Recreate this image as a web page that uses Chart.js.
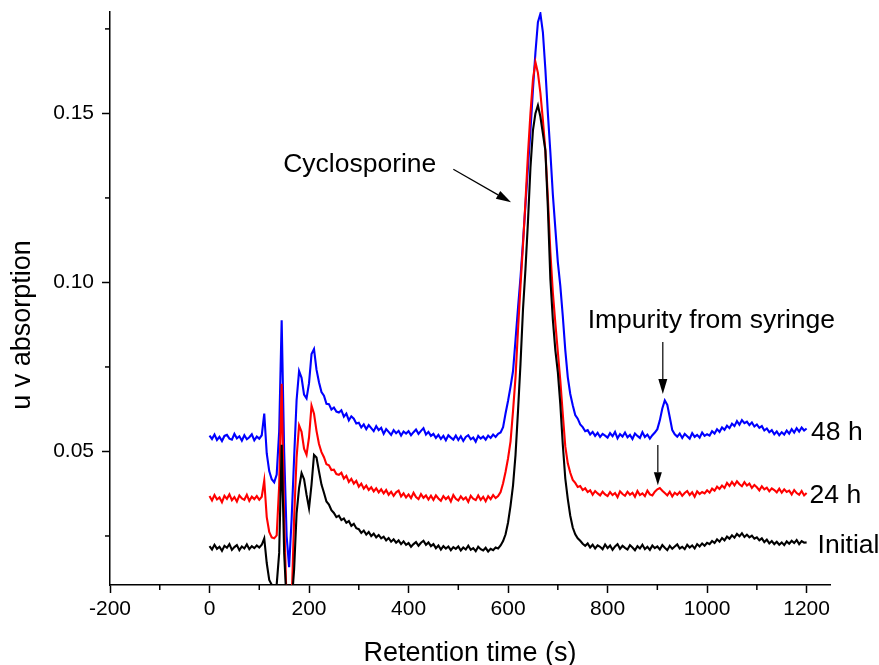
<!DOCTYPE html>
<html><head><meta charset="utf-8">
<script src="https://cdn.jsdelivr.net/npm/chart.js@4.4.1/dist/chart.umd.min.js"></script>
<style>html,body{margin:0;padding:0;background:#fff}#wrap{width:879px;height:665px;position:relative}</style>
</head><body><div id="wrap"><canvas id="c"></canvas></div>
<script>
// Retention time (s), one sample every 5 s
const times = [
0,5,10,15,20,25,30,35,40,45, 50,55,60,65,70,75,80,85,90,95,
100,105,110,115,120,125,130,135,140,145, 150,155,160,165,170,175,180,185,190,195,
200,205,210,215,220,225,230,235,240,245, 250,255,260,265,270,275,280,285,290,295,
300,305,310,315,320,325,330,335,340,345, 350,355,360,365,370,375,380,385,390,395,
400,405,410,415,420,425,430,435,440,445, 450,455,460,465,470,475,480,485,490,495,
500,505,510,515,520,525,530,535,540,545, 550,555,560,565,570,575,580,585,590,595,
600,605,610,615,620,625,630,635,640,645, 650,655,660,665,670,675,680,685,690,695,
700,705,710,715,720,725,730,735,740,745, 750,755,760,765,770,775,780,785,790,795,
800,805,810,815,820,825,830,835,840,845, 850,855,860,865,870,875,880,885,890,895,
900,905,910,915,920,925,930,935,940,945, 950,955,960,965,970,975,980,985,990,995,
1000,1005,1010,1015,1020,1025,1030,1035,1040,1045, 1050,1055,1060,1065,1070,1075,1080,1085,1090,1095,
1100,1105,1110,1115,1120,1125,1130,1135,1140,1145, 1150,1155,1160,1165,1170,1175,1180,1185,1190,1195,
1200];

const initialSeries = [
0.0220,0.0210,0.0224,0.0212,0.0218,0.0206,0.0221,0.0215,0.0226,0.0209,
0.0217,0.0223,0.0208,0.0219,0.0213,0.0225,0.0211,0.0220,0.0214,0.0222,
0.0216,0.0224,0.0243,0.0170,0.0120,0.0106,0.0100,0.0106,0.0200,0.0520,
0.0200,0.0050,0.0050,0.0050,0.0150,0.0317,0.0392,0.0436,0.0418,0.0372,
0.0332,0.0402,0.0490,0.0482,0.0441,0.0402,0.0378,0.0352,0.0343,0.0326,
0.0318,0.0306,0.0310,0.0297,0.0302,0.0289,0.0294,0.0280,0.0286,0.0273,
0.0270,0.0259,0.0266,0.0254,0.0262,0.0250,0.0257,0.0246,0.0253,0.0243,
0.0248,0.0237,0.0244,0.0233,0.0240,0.0230,0.0237,0.0226,0.0234,0.0224,
0.0229,0.0218,0.0226,0.0232,0.0221,0.0230,0.0236,0.0224,0.0231,0.0220,
0.0226,0.0214,0.0222,0.0210,0.0220,0.0213,0.0219,0.0208,0.0217,0.0212,
0.0219,0.0207,0.0216,0.0210,0.0221,0.0209,0.0214,0.0205,0.0218,0.0211,
0.0207,0.0215,0.0204,0.0212,0.0208,0.0216,0.0213,0.0222,0.0235,0.0255,
0.0290,0.0340,0.0400,0.0490,0.0620,0.0760,0.0920,0.1040,0.1180,0.1340,
0.1450,0.1500,0.1524,0.1490,0.1440,0.1390,0.1220,0.1010,0.0890,0.0800,
0.0735,0.0640,0.0520,0.0420,0.0360,0.0310,0.0275,0.0255,0.0243,0.0236,
0.0227,0.0221,0.0228,0.0216,0.0224,0.0213,0.0222,0.0218,0.0211,0.0225,
0.0214,0.0222,0.0209,0.0219,0.0226,0.0212,0.0221,0.0215,0.0210,0.0223,
0.0216,0.0208,0.0220,0.0213,0.0224,0.0211,0.0218,0.0209,0.0222,0.0214,
0.0219,0.0210,0.0223,0.0215,0.0208,0.0221,0.0212,0.0219,0.0225,0.0213,
0.0218,0.0211,0.0224,0.0216,0.0222,0.0213,0.0226,0.0219,0.0228,0.0221,
0.0230,0.0226,0.0235,0.0229,0.0240,0.0233,0.0244,0.0237,0.0248,0.0242,
0.0252,0.0245,0.0256,0.0249,0.0258,0.0247,0.0254,0.0246,0.0251,0.0242,
0.0246,0.0237,0.0243,0.0232,0.0239,0.0228,0.0235,0.0226,0.0233,0.0224,
0.0231,0.0223,0.0234,0.0227,0.0236,0.0229,0.0238,0.0226,0.0235,0.0230,
0.0231];

const h24Series = [
0.0368,0.0355,0.0371,0.0358,0.0364,0.0350,0.0369,0.0360,0.0373,0.0356,
0.0365,0.0352,0.0370,0.0361,0.0357,0.0372,0.0354,0.0366,0.0359,0.0368,
0.0357,0.0366,0.0414,0.0306,0.0262,0.0246,0.0243,0.0252,0.0400,0.0700,
0.0300,0.0050,0.0050,0.0050,0.0300,0.0482,0.0577,0.0558,0.0508,0.0490,
0.0542,0.0636,0.0612,0.0561,0.0522,0.0498,0.0483,0.0462,0.0459,0.0445,
0.0446,0.0433,0.0431,0.0437,0.0420,0.0428,0.0410,0.0419,0.0405,0.0413,
0.0396,0.0405,0.0390,0.0399,0.0386,0.0394,0.0382,0.0391,0.0379,0.0388,
0.0376,0.0386,0.0372,0.0381,0.0369,0.0379,0.0384,0.0367,0.0376,0.0364,
0.0373,0.0362,0.0378,0.0365,0.0359,0.0374,0.0363,0.0370,0.0358,0.0369,
0.0357,0.0370,0.0361,0.0354,0.0368,0.0359,0.0366,0.0352,0.0371,0.0360,
0.0355,0.0367,0.0358,0.0364,0.0351,0.0369,0.0360,0.0356,0.0370,0.0357,
0.0366,0.0353,0.0368,0.0359,0.0371,0.0362,0.0368,0.0380,0.0406,0.0440,
0.0480,0.0530,0.0620,0.0720,0.0860,0.0990,0.1110,0.1240,0.1380,0.1500,
0.1600,0.1652,0.1620,0.1560,0.1480,0.1390,0.1250,0.1090,0.0970,0.0880,
0.0795,0.0710,0.0610,0.0515,0.0465,0.0437,0.0416,0.0407,0.0395,0.0398,
0.0386,0.0391,0.0380,0.0385,0.0372,0.0383,0.0376,0.0370,0.0381,0.0373,
0.0368,0.0380,0.0371,0.0377,0.0365,0.0382,0.0374,0.0369,0.0381,0.0372,
0.0378,0.0366,0.0383,0.0371,0.0376,0.0368,0.0384,0.0373,0.0370,0.0381,
0.0388,0.0392,0.0384,0.0377,0.0370,0.0381,0.0367,0.0378,0.0372,0.0380,
0.0369,0.0377,0.0383,0.0371,0.0379,0.0366,0.0382,0.0374,0.0380,0.0376,
0.0385,0.0378,0.0390,0.0384,0.0396,0.0389,0.0399,0.0392,0.0407,0.0398,
0.0410,0.0400,0.0412,0.0403,0.0397,0.0409,0.0399,0.0405,0.0392,0.0401,
0.0394,0.0385,0.0397,0.0388,0.0393,0.0382,0.0391,0.0386,0.0379,0.0390,
0.0378,0.0388,0.0380,0.0384,0.0373,0.0386,0.0377,0.0372,0.0383,0.0370,
0.0377];

const h48Series = [
0.0547,0.0537,0.0550,0.0534,0.0543,0.0531,0.0546,0.0549,0.0538,0.0535,
0.0552,0.0539,0.0545,0.0532,0.0548,0.0536,0.0542,0.0551,0.0533,0.0544,
0.0538,0.0548,0.0612,0.0494,0.0442,0.0418,0.0409,0.0432,0.0560,0.0888,
0.0500,0.0250,0.0158,0.0300,0.0480,0.0652,0.0738,0.0718,0.0668,0.0657,
0.0702,0.0788,0.0803,0.0742,0.0705,0.0676,0.0665,0.0641,0.0640,0.0624,
0.0630,0.0618,0.0615,0.0622,0.0603,0.0612,0.0592,0.0604,0.0597,0.0583,
0.0585,0.0571,0.0580,0.0566,0.0578,0.0569,0.0560,0.0575,0.0563,0.0570,
0.0552,0.0566,0.0558,0.0549,0.0563,0.0554,0.0561,0.0547,0.0559,0.0553,
0.0560,0.0548,0.0557,0.0565,0.0552,0.0561,0.0569,0.0550,0.0558,0.0546,
0.0552,0.0540,0.0549,0.0537,0.0546,0.0533,0.0548,0.0541,0.0535,0.0547,
0.0534,0.0545,0.0531,0.0543,0.0548,0.0536,0.0541,0.0529,0.0546,0.0538,
0.0544,0.0535,0.0547,0.0540,0.0550,0.0543,0.0552,0.0556,0.0572,0.0613,
0.0650,0.0692,0.0738,0.0830,0.0925,0.1015,0.1120,0.1230,0.1340,0.1450,
0.1570,0.1680,0.1770,0.1795,0.1740,0.1630,0.1500,0.1385,0.1260,0.1160,
0.1060,0.0990,0.0900,0.0800,0.0720,0.0670,0.0637,0.0608,0.0597,0.0580,
0.0572,0.0560,0.0563,0.0550,0.0558,0.0546,0.0555,0.0543,0.0552,0.0547,
0.0541,0.0554,0.0545,0.0558,0.0539,0.0551,0.0544,0.0556,0.0542,0.0549,
0.0537,0.0553,0.0546,0.0540,0.0557,0.0543,0.0550,0.0538,0.0548,0.0556,
0.0566,0.0592,0.0627,0.0651,0.0638,0.0601,0.0563,0.0551,0.0544,0.0553,
0.0540,0.0552,0.0545,0.0538,0.0554,0.0543,0.0549,0.0541,0.0556,0.0546,
0.0551,0.0547,0.0560,0.0553,0.0566,0.0558,0.0571,0.0564,0.0576,0.0569,
0.0582,0.0575,0.0590,0.0579,0.0593,0.0584,0.0588,0.0578,0.0586,0.0574,
0.0580,0.0570,0.0575,0.0562,0.0568,0.0557,0.0563,0.0551,0.0559,0.0548,
0.0557,0.0550,0.0562,0.0553,0.0566,0.0556,0.0569,0.0559,0.0571,0.0562,
0.0568];

const seriesNames = ['Initial', '24 h', '48 h'];
const xMajorTicks = [-200, 0, 200, 400, 600, 800, 1000, 1200];
const xMinorTicks = [-100, 100, 300, 500, 700, 900, 1100];
const yMajorTicks = [0.05, 0.10, 0.15];
const yMinorTicks = [0.025, 0.075, 0.125, 0.175];

const FONT = "'Liberation Sans', Arial, Helvetica, sans-serif";

function pts(vals){ return times.map((t,i)=>({x:t, y:vals[i]})); }

function drawArrow(ctx, x1, y1, x2, y2, headLen, headW){
  const ang = Math.atan2(y2-y1, x2-x1);
  const bx = x2 - headLen*Math.cos(ang), by = y2 - headLen*Math.sin(ang);
  ctx.beginPath(); ctx.moveTo(x1,y1); ctx.lineTo(bx,by); ctx.stroke();
  ctx.beginPath();
  ctx.moveTo(x2,y2);
  ctx.lineTo(bx + headW*Math.sin(ang), by - headW*Math.cos(ang));
  ctx.lineTo(bx - headW*Math.sin(ang), by + headW*Math.cos(ang));
  ctx.closePath(); ctx.fill();
}

const decor = {
  id: 'decor',
  afterDraw(chart){
    const {ctx, scales:{x, y}} = chart;
    ctx.save();
    ctx.strokeStyle = '#000'; ctx.fillStyle = '#000'; ctx.lineWidth = 1.5;
    xMinorTicks.forEach(v=>{
      const px = x.getPixelForValue(v);
      ctx.beginPath(); ctx.moveTo(px, y.bottom); ctx.lineTo(px, y.bottom+5); ctx.stroke();
    });
    yMinorTicks.forEach(v=>{
      const py = y.getPixelForValue(v);
      ctx.beginPath(); ctx.moveTo(x.left, py); ctx.lineTo(x.left-5, py); ctx.stroke();
    });
    // axis titles
    ctx.font = '27px ' + FONT;
    ctx.textAlign = 'center'; ctx.textBaseline = 'alphabetic';
    ctx.fillText('Retention time (s)', 470, 661);
    ctx.save();
    ctx.translate(30, 325); ctx.rotate(-Math.PI/2);
    ctx.fillText('u v absorption', 0, 0);
    ctx.restore();
    // annotations
    ctx.font = '26.5px ' + FONT; ctx.textAlign = 'left';
    ctx.fillText('Cyclosporine', x.getPixelForValue(148), 172);
    ctx.fillText('Impurity from syringe', x.getPixelForValue(760), 328);
    ctx.fillText(seriesNames[2], x.getPixelForValue(1209), 440);
    ctx.fillText(seriesNames[1], x.getPixelForValue(1206), 503);
    ctx.fillText(seriesNames[0], x.getPixelForValue(1222), 553);
    ctx.lineWidth = 1.2;
    drawArrow(ctx, x.getPixelForValue(490), y.getPixelForValue(0.1335), x.getPixelForValue(606), y.getPixelForValue(0.1237), 15, 4.5);
    drawArrow(ctx, x.getPixelForValue(911), y.getPixelForValue(0.0824), x.getPixelForValue(911), y.getPixelForValue(0.0670), 15, 4.5);
    drawArrow(ctx, x.getPixelForValue(901), y.getPixelForValue(0.0519), x.getPixelForValue(901), y.getPixelForValue(0.0400), 13, 4);
    ctx.restore();
  }
};

const ds = (label, vals, color) => ({
  label, data: pts(vals), borderColor: color, backgroundColor: color,
  borderWidth: 2.1, pointRadius: 0, tension: 0, fill: false
});

new Chart(document.getElementById('c'), {
  type: 'line',
  data: { datasets: [
    ds(seriesNames[0], initialSeries, '#000000'),
    ds(seriesNames[1], h24Series, '#ff0000'),
    ds(seriesNames[2], h48Series, '#0000ff')
  ]},
  options: {
    responsive: true, maintainAspectRatio: false, animation: false,
    layout: { padding: { left: 0, right: 49, top: 12, bottom: 0 } },
    plugins: { legend: { display: false }, tooltip: { enabled: false } },
    scales: {
      x: {
        type: 'linear', min: -200, max: 1247,
        afterBuildTicks: s => { s.ticks = xMajorTicks.map(v => ({value: v})); },
        afterFit: s => { s.height = 80; s.paddingLeft = 0; s.paddingRight = 0; },
        border: { display: true, color: '#000', width: 1.5 },
        grid: { drawOnChartArea: false, drawTicks: true, tickLength: 8, tickColor: '#000', tickWidth: 1.5 },
        ticks: { color: '#000', font: { family: FONT, size: 21 }, padding: 4, maxRotation: 0, autoSkip: false,
                 callback: v => String(v) }
      },
      y: {
        type: 'linear', min: 0.0105, max: 0.18,
        afterBuildTicks: s => { s.ticks = yMajorTicks.map(v => ({value: v})); },
        afterFit: s => { s.width = 110; s.paddingTop = 0; s.paddingBottom = 0; },
        border: { display: true, color: '#000', width: 1.5 },
        grid: { drawOnChartArea: false, drawTicks: true, tickLength: 8, tickColor: '#000', tickWidth: 1.5 },
        ticks: { color: '#000', font: { family: FONT, size: 21 }, padding: 8,
                 callback: v => Number(v).toFixed(2) }
      }
    }
  },
  plugins: [decor]
});
</script></body></html>
